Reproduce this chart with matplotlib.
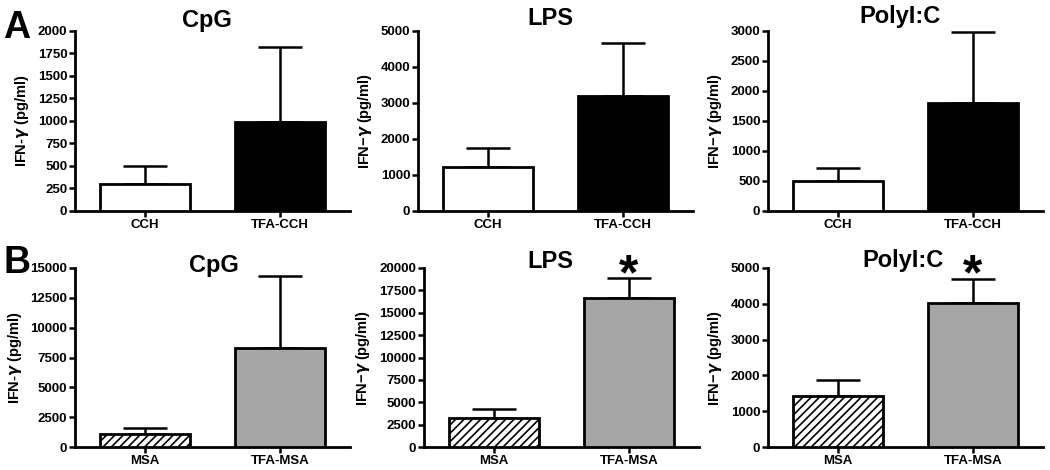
import matplotlib
matplotlib.use("Agg")
import matplotlib.pyplot as plt

plt.rcParams['font.family'] = ['Liberation Sans', 'DejaVu Sans']
plt.rcParams['font.weight'] = 'bold'
plt.rcParams['mathtext.default'] = 'it'
plt.rcParams['hatch.linewidth'] = 1.2

# data
titles = ["CpG", "LPS", "PolyI:C"]
groups_a = ["CCH", "TFA-CCH"]
groups_b = ["MSA", "TFA-MSA"]

means_a = [[296, 990], [1227, 3190], [500, 1800]]
errs_a = [[200, 830], [520, 1475], [220, 1190]]
means_b = [[1065, 8260], [3230, 16600], [1425, 4015]]
errs_b = [[560, 6040], [970, 2250], [455, 690]]

yticks_a = [[0, 250, 500, 750, 1000, 1250, 1500, 1750, 2000],
            [0, 1000, 2000, 3000, 4000, 5000],
            [0, 500, 1000, 1500, 2000, 2500, 3000]]
yticks_b = [[0, 2500, 5000, 7500, 10000, 12500, 15000],
            [0, 2500, 5000, 7500, 10000, 12500, 15000, 17500, 20000],
            [0, 1000, 2000, 3000, 4000, 5000]]
stars_b = [False, True, True]

ylabels = ["IFN-$\\gamma$ (pg/ml)", "IFN\u2212$\\gamma$ (pg/ml)", "IFN\u2212$\\gamma$ (pg/ml)"]

W, H = 1050, 470
fig = plt.figure(figsize=(W / 100, H / 100), dpi=100)

# axes placement in pixels
lefts_a = [75, 418, 768]
lefts_b = [75, 424, 768]
row_a = (31, 211)
row_b = (268, 447)
axw = 275
# title centre x and baseline y, pixels
title_a = [(207, 27), (550, 25), (900, 23)]
title_b = [(214, 272), (550, 268), (903, 267)]


def panel(left, rows, means, errs, groups, ticks, title, tpos, ylab, row, star):
    top, bot = rows
    ax = fig.add_axes([left / W, 1 - bot / H, axw / W, (bot - top) / H])
    x = [0, 1]
    if row == "a":
        ax.bar(x, means, width=0.667, color=["white", "black"],
               edgecolor="black", linewidth=2, zorder=3)
    else:
        ax.bar(x[0], means[0], width=0.667, color="white", hatch="////",
               edgecolor="black", linewidth=2, zorder=3)
        ax.bar(x[1], means[1], width=0.667, color="#a6a6a6",
               edgecolor="black", linewidth=2, zorder=3)
    ax.errorbar(x, means, yerr=[[0, 0], errs], fmt="none", ecolor="black",
                elinewidth=1.8, capsize=16, capthick=1.8, zorder=2)
    ax.set_xlim(-0.52, 1.52)
    ax.set_ylim(0, ticks[-1])
    ax.set_yticks(ticks)
    ax.set_yticklabels([str(t) for t in ticks], fontsize=9.5, fontweight="bold")
    ax.set_xticks(x)
    ax.set_xticklabels(groups, fontsize=9.5, fontweight="bold")
    ax.spines["top"].set_visible(False)
    ax.spines["right"].set_visible(False)
    ax.spines["left"].set_linewidth(2)
    ax.spines["bottom"].set_linewidth(2)
    ax.tick_params(width=1.8, length=4, pad=1.5)
    ax.set_ylabel(ylab, fontsize=10.5, fontweight="bold", labelpad=5)
    fig.text(tpos[0] / W, 1 - tpos[1] / H, title, ha="center", va="baseline",
             fontsize=17, fontweight="bold")
    if star:
        ax.text(1, 0.955, "*", transform=ax.get_xaxis_transform(),
                ha="center", va="center", fontsize=36, fontweight="bold",
                clip_on=False)
    return ax


for i in range(3):
    panel(lefts_a[i], row_a, means_a[i], errs_a[i], groups_a, yticks_a[i],
          titles[i], title_a[i], ylabels[i], "a", False)
    panel(lefts_b[i], row_b, means_b[i], errs_b[i], groups_b, yticks_b[i],
          titles[i], title_b[i], ylabels[i], "b", stars_b[i])

fig.text(3 / W, 1 - 38 / H, "A", fontsize=27, fontweight="bold", va="baseline")
fig.text(3 / W, 1 - 273 / H, "B", fontsize=27, fontweight="bold", va="baseline")

fig.savefig("out.png", dpi=100)
